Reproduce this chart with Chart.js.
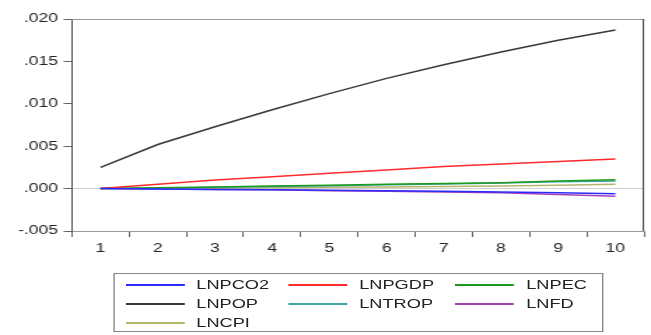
<!DOCTYPE html>
<html>
<head>
<meta charset="utf-8">
<script src="https://cdn.jsdelivr.net/npm/chart.js@4/dist/chart.umd.min.js"></script>
<style>
  html, body { margin: 0; padding: 0; background: #fff; }
  body { width: 651px; height: 335px; position: relative; overflow: hidden; font-family: "Liberation Sans", Arial, sans-serif; }
  /* the reference is a horizontally stretched picture, so draw narrow and stretch */
  #stage { position: absolute; left: 0; top: 0; width: 465px; height: 335px; transform: scaleX(1.4); transform-origin: 0 0; }
  #wrap { position: absolute; left: 0; top: 0; width: 465px; height: 262px; }
  #legend {
    position: absolute; left: 80.7px; top: 273px; width: 350px; height: 59px;
    border: 1px solid #888; box-sizing: border-box;
    display: grid; grid-template-columns: 116.4px 119.3px 100px; grid-auto-rows: 19px;
    padding: 1px 0 0 8px; font-size: 13px; color: #222;
  }
  #legend .item { display: flex; align-items: center; }
  #legend .swatch { width: 42px; height: 0; border-top: 2px solid; margin-right: 8.5px; }
</style>
</head>
<body>
<div id="stage">
  <div id="wrap"><canvas id="chart"></canvas></div>
  <div id="legend"></div>
</div>
<script>
const periods = ["1", "2", "3", "4", "5", "6", "7", "8", "9", "10"];
const yTicks = [-0.005, 0, 0.005, 0.010, 0.015, 0.020];

const lnpco2 = [0, -0.00005, -0.0001, -0.00015, -0.0002, -0.00025, -0.0003, -0.0004, -0.0005, -0.0006];
const lnpgdp = [0, 0.0005, 0.001, 0.0014, 0.0018, 0.0022, 0.0026, 0.0029, 0.0032, 0.0035];
const lnpec = [0, 0.0001, 0.0002, 0.0003, 0.0004, 0.0005, 0.0006, 0.0007, 0.0009, 0.00105];
const lnpop = [0.0025, 0.0052, 0.0073, 0.0093, 0.0112, 0.0130, 0.0146, 0.0161, 0.0175, 0.0187];
const lntrop = [0, 0.00005, 0.00015, 0.00025, 0.00035, 0.00045, 0.00055, 0.00065, 0.0008, 0.0009];
const lnfd = [0, -0.00005, -0.0001, -0.00015, -0.00025, -0.0003, -0.0004, -0.0005, -0.0007, -0.0009];
const lncpi = [0, 0, 0.00005, 0.0001, 0.00015, 0.0002, 0.00025, 0.0003, 0.0004, 0.0005];

const series = [
  { label: "LNPCO2", data: lnpco2, color: "#2b2bff" },
  { label: "LNPGDP", data: lnpgdp, color: "#ff2a2a" },
  { label: "LNPEC", data: lnpec, color: "#1e9a1e" },
  { label: "LNPOP", data: lnpop, color: "#3a3a3a" },
  { label: "LNTROP", data: lntrop, color: "#3fa3a3" },
  { label: "LNFD", data: lnfd, color: "#a840b5" },
  { label: "LNCPI", data: lncpi, color: "#b5b56e" }
];

const frame = {
  id: "frame",
  afterDraw(chart) {
    const { ctx, chartArea: a } = chart;
    ctx.save();
    ctx.lineWidth = 1;
    ctx.strokeStyle = "#999";
    ctx.beginPath();
    ctx.moveTo(a.left, a.top + 0.5); ctx.lineTo(a.right, a.top + 0.5);
    ctx.stroke();
    ctx.strokeStyle = "#444";
    ctx.beginPath();
    ctx.moveTo(a.right - 0.5, a.top); ctx.lineTo(a.right - 0.5, a.bottom);
    ctx.stroke();
    ctx.restore();
  }
};

new Chart(document.getElementById("chart"), {
  type: "line",
  data: {
    labels: periods,
    datasets: series.map(s => ({
      label: s.label, data: s.data, borderColor: s.color, backgroundColor: s.color,
      borderWidth: 1.5, pointRadius: 0, tension: 0, fill: false
    }))
  },
  options: {
    responsive: true,
    maintainAspectRatio: false,
    animation: false,
    layout: { padding: { top: 19, right: 5, left: 0, bottom: 0 } },
    plugins: { legend: { display: false }, tooltip: { enabled: false } },
    scales: {
      x: {
        offset: true,
        grid: { offset: true, drawOnChartArea: false, tickLength: 6, tickColor: "#666" },
        border: { color: "#999", width: 1 },
        ticks: { color: "#222", font: { family: "Liberation Sans", size: 12.5 }, padding: 4, maxRotation: 0 },
        afterFit: s => { s.height = 31; }
      },
      y: {
        min: -0.005, max: 0.020,
        afterBuildTicks: s => { s.ticks = yTicks.map(v => ({ value: v })); },
        grid: {
          drawOnChartArea: true, tickLength: 6, tickColor: "#666",
          color: c => (c.tick && c.tick.value === 0 ? "#cfcfcf" : "rgba(0,0,0,0)")
        },
        border: { color: "#555", width: 1 },
        ticks: {
          color: "#222", font: { family: "Liberation Sans", size: 12.5 }, padding: 4,
          callback: v => v.toFixed(3).replace(/^(-?)0\./, "$1.")
        },
        afterFit: s => { s.width = 51.4; }
      }
    }
  },
  plugins: [frame]
});

const legendEl = document.getElementById("legend");
series.forEach(s => {
  const item = document.createElement("div");
  item.className = "item";
  item.innerHTML = `<span class="swatch" style="border-color:${s.color}"></span><span>${s.label}</span>`;
  legendEl.appendChild(item);
});
</script>
</body>
</html>
